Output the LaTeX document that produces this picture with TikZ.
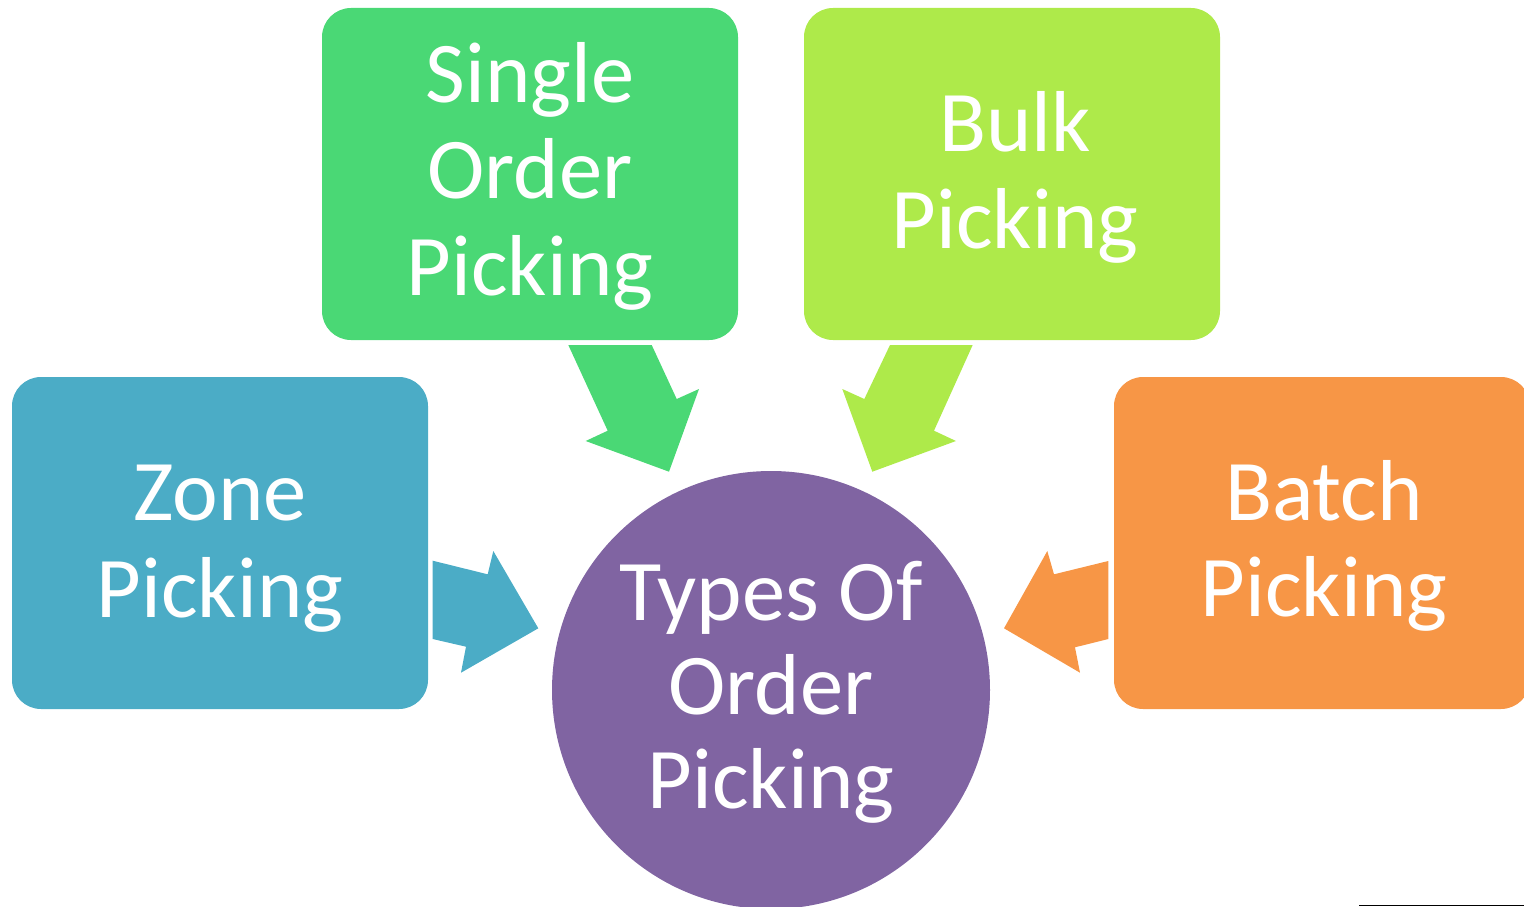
\documentclass[tikz,border=0pt]{standalone}
\usepackage{fontspec}
\setmainfont{Carlito}
\definecolor{cgreen}{RGB}{74,216,117}
\definecolor{clime}{RGB}{174,234,74}
\definecolor{cblue}{RGB}{75,172,198}
\definecolor{corange}{RGB}{247,150,70}
\definecolor{cpurple}{RGB}{128,100,162}
\begin{document}
\begin{tikzpicture}[x=1pt,y=-1pt,
  box/.style={rounded corners=29pt, minimum width=416pt, minimum height=332pt, inner sep=0pt, draw=none},
  lbl/.style={text=white, align=center, inner sep=0pt, font=\fontsize{86.5}{96.5}\selectfont},
  clbl/.style={text=white, align=center, inner sep=0pt, font=\fontsize{86.5}{94}\selectfont},
  blockarrow/.style={draw=none}]
\useasboundingbox (0,0) rectangle (1524,907);
\begin{scope}
\clip (0,0) rectangle (1524,907);
% boxes
\node[box, fill=cgreen] (single) at (530,174) {};
\node[box, fill=clime] (bulk) at (1012,174) {};
\node[box, fill=cblue] (zone) at (220,543) {};
\node[box, fill=corange] (batch) at (1322,543) {};
\node[circle, fill=cpurple, minimum size=438pt, inner sep=0pt] (types) at (771,690) {};
% labels
\node[lbl] (singlet) at (530,176) {Single\\Order\\Picking};
\node[lbl] (bulkt) at (1015,177.5) {Bulk\\Picking};
\node[lbl] (zonet) at (220,548.5) {Zone\\Picking};
\node[lbl] (batcht) at (1324,546) {Batch\\Picking};
\node[clbl] (typest) at (771,692.5) {Types Of\\Order\\Picking};
% block arrows
\fill[cblue, blockarrow] (432.7,560.7) -- (487.7,574.3) -- (493.3,551) -- (538.3,628.3) -- (461,672.7) -- (466,646.7) -- (432.7,639) -- cycle;
\fill[cgreen, blockarrow] (568.3,345) -- (651.7,345) -- (676.7,399) -- (699,389) -- (669,471.7) -- (585.7,441) -- (607.7,430.7) -- cycle;
\fill[clime, blockarrow] (972.7,345) -- (890,345) -- (864.3,399) -- (842.3,389) -- (872.3,471.7) -- (956,441) -- (934,430.7) -- cycle;
\fill[corange, blockarrow] (1108.3,561) -- (1054,574.3) -- (1047.3,551) -- (1004,628.3) -- (1080,672.7) -- (1075,647.3) -- (1108.3,639) -- cycle;
% stray rule at bottom right
\coordinate (ruleA) at (1359,905.5);
\coordinate (ruleB) at (1524,905.5);
\draw[black, line width=1.2pt] (ruleA) -- (ruleB);
\end{scope}
\end{tikzpicture}
\end{document}
